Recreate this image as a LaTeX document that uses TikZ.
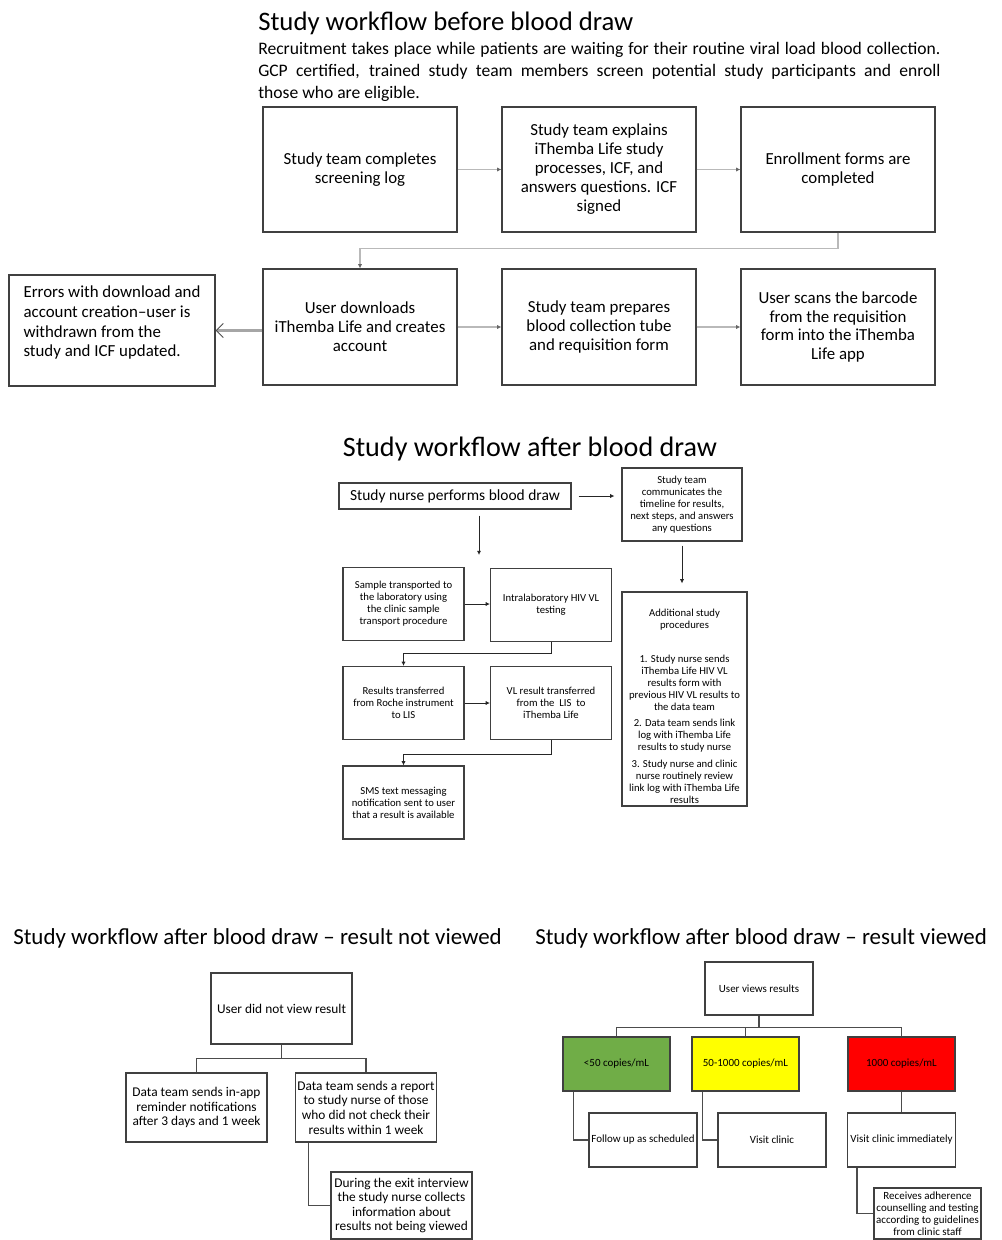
\documentclass[tikz,border=0pt]{standalone}
\usepackage{fontspec}
\setmainfont{Carlito}
\usetikzlibrary{arrows.meta}
\definecolor{lowgreen}{HTML}{70AD47}
\definecolor{midyellow}{HTML}{FFFF00}
\definecolor{highred}{HTML}{FF0000}

\begin{document}
\begin{tikzpicture}[x=0.025cm, y=-0.025cm,
  box/.style={draw=black!75, line width=0.8pt, align=center, inner sep=1pt},
  topbox/.style={box, font=\fontsize{12}{13.5}\selectfont, minimum width=4.85cm},
  midbox/.style={box, font=\fontsize{7.6}{8.6}\selectfont, minimum width=3.025cm, minimum height=1.825cm},
  nvbox/.style={box, font=\fontsize{9.5}{10.4}\selectfont, minimum width=3.525cm},
  resbox/.style={box, font=\fontsize{7.8}{8.5}\selectfont, minimum width=2.7cm, minimum height=1.35cm},
  ttl/.style={inner sep=0pt},
  grayarr/.style={gray!55, line width=0.8pt, -{Latex[length=3pt, width=3pt, color=black!60]}},
  midarr/.style={black!85, line width=0.6pt, -{Latex[length=3pt, width=3pt]}},
  tree/.style={black!70, line width=0.8pt}]
  \fill [white] (0,0) rectangle (1001,1240);
  \useasboundingbox (0,0) rectangle (1001,1240);

  % titill
  \node [ttl, anchor=base west, font=\fontsize{19}{22}\selectfont] (ttlbefore) at (258,31) {Study workflow before blood draw};
  \node [ttl, anchor=north west, text width=17.05cm, align=justify, font=\fontsize{12.5}{15.6}\selectfont] (intro) at (258,42)
    {\noindent Recruitment takes place while patients are waiting for their routine viral load blood collection.\linebreak
     GCP certified, trained study team members screen potential study participants and enroll\linebreak
     those who are eligible.};

  % kassar
  \node [topbox, minimum height=3.125cm] (screening) at (360,169.5) {Study team completes\\screening log};
  \node [topbox, minimum height=3.125cm] (explain) at (599,169.5) {Study team explains\\iThemba Life study\\processes, ICF, and\\answers questions. ICF\\signed};
  \node [topbox, minimum height=3.125cm] (enrol) at (838,169.5) {Enrollment forms are\\completed};
  \node [topbox, minimum height=2.9cm] (download) at (360,327) {User downloads\\iThemba Life and creates\\account};
  \node [topbox, minimum height=2.9cm] (prepare) at (599,327) {Study team prepares\\blood collection tube\\and requisition form};
  \node [topbox, minimum height=2.9cm] (barcode) at (838,327) {User scans the barcode\\from the requisition\\form into the iThemba\\Life app};
  \node [topbox, align=left, font=\fontsize{12}{14}\selectfont, minimum width=5.15cm, minimum height=2.775cm] (errors) at (112,330.5)
    {Errors with download and\\account creation–user is\\withdrawn from the\\study and ICF updated.\rule[-13pt]{0pt}{1pt}};

  % örvar
  \draw [grayarr] (screening) -- (explain);
  \draw [grayarr] (explain) -- (enrol);
  \draw [grayarr] (enrol.south) -- ++(0,16) -| (download.north);
  \draw [grayarr] (download) -- (prepare);
  \draw [grayarr] (prepare) -- (barcode);
  \draw [gray!70, line width=2pt, -{Straight Barb[length=5pt, width=10pt, line width=0.7pt, color=black!70]}] (download.west |- errors) -- (errors.east);

  % titill
  \node [ttl, anchor=base, font=\fontsize{20}{24}\selectfont] (ttlafter) at (530,456) {Study workflow after blood draw};

  % kassar
  \node [box, font=\fontsize{11}{13}\selectfont, minimum width=5.8cm, minimum height=0.65cm] (nurse) at (455,496) {Study nurse performs blood draw};
  \node [midbox, minimum width=3cm] (timeline) at (682,504.5) {Study team\\communicates the\\timeline for results,\\next steps, and answers\\any questions};
  \node [midbox] (transport) at (403.5,604) {Sample transported to\\the laboratory using\\the clinic sample\\transport procedure};
  \node [midbox] (testing) at (551,605) {Intralaboratory HIV VL\\testing};
  \node [midbox, minimum width=3.125cm, minimum height=5.35cm] (extra) at (684.5,699)
    {\rule{0pt}{16pt}Additional study\\procedures\\[15pt]
     1. Study nurse sends\\iThemba Life HIV VL\\results form with\\previous HIV VL results to\\the data team\\[3pt]
     2. Data team sends link\\log with iThemba Life\\results to study nurse\\[3pt]
     3. Study nurse and clinic\\nurse routinely review\\link log with iThemba Life\\results};
  \node [midbox] (lis) at (403.5,703) {Results transferred\\from Roche instrument\\to LIS};
  \node [midbox] (tolife) at (551,703) {VL result transferred\\from the\ \ LIS\ \ to\\iThemba Life};
  \node [midbox] (sms) at (403.5,802.5) {SMS text messaging\\notification sent to user\\that a result is available};

  % örvar
  \coordinate (drawdown) at (479,555);
  \draw [midarr, shorten <=1.75mm, shorten >=1.75mm] (nurse.east) -- (nurse.east -| timeline.west);
  \draw [midarr] (nurse.south -| drawdown) ++(0,6) -- (drawdown);
  \draw [midarr, shorten <=1mm, shorten >=2mm] (timeline.south) -- (timeline.south |- extra.north);
  \draw [midarr] (transport.east) -- (transport.east -| testing.west);
  \draw [midarr] (testing.south) -- ++(0,11) -| (lis.north);
  \draw [midarr] (lis.east) -- (lis.east -| tolife.west);
  \draw [midarr] (tolife.south) -- ++(0,14) -| (sms.north);

  % ekki skoðað
  \node [ttl, anchor=base west, font=\fontsize{16.3}{19}\selectfont] (ttlnotviewed) at (13,944) {Study workflow after blood draw – result not viewed};
  \node [nvbox, minimum height=1.775cm] (notviewed) at (281.5,1008.5) {User did not view result};
  \node [nvbox, minimum height=1.725cm] (reminder) at (196.5,1107.5) {Data team sends in-app\\reminder notifications\\after 3 days and 1 week};
  \node [nvbox, minimum height=1.725cm] (report) at (366,1107.5) {Data team sends a report\\to study nurse of those\\who did not check their\\results within 1 week};
  \node [nvbox, minimum height=1.675cm] (exitint) at (401.5,1205.5) {During the exit interview\\the study nurse collects\\information about\\results not being viewed};
  \draw [tree] (notviewed.south) -- ++(0,14) -| (reminder.north);
  \draw [tree] (notviewed.south) -- ++(0,14) -| (report.north);
  \draw [tree] (report.south west) ++(14,0) |- (exitint.west);

  % skoðað
  \node [ttl, anchor=base west, font=\fontsize{16.3}{19}\selectfont] (ttlviewed) at (535,944) {Study workflow after blood draw – result viewed};
  \node [resbox, minimum height=1.325cm] (viewed) at (759,988.5) {User views results};
  \node [resbox, fill=lowgreen, minimum width=2.675cm] (low) at (616.5,1064) {<50 copies/mL};
  \node [resbox, fill=midyellow, minimum width=2.675cm] (mid) at (745.5,1064) {50-1000 copies/mL};
  \node [resbox, fill=highred, minimum width=2.675cm] (high) at (901.5,1064) {1000 copies/mL};
  \node [resbox] (followup) at (643,1140) {Follow up as scheduled};
  \node [resbox] (visit) at (772,1140) {Visit clinic};
  \node [resbox] (urgent) at (901.5,1140) {Visit clinic immediately};
  \node [resbox, minimum width=2.675cm, minimum height=1.275cm] (adherence) at (927.5,1213.5) {Receives adherence\\counselling and testing\\according to guidelines\\from clinic staff};
  \draw [tree] (viewed.south) -- ++(0,12) -| (low.north);
  \draw [tree] (viewed.south) -- ++(0,12) -| (mid.north);
  \draw [tree] (viewed.south) -- ++(0,12) -| (high.north);
  \draw [tree] (low.south west) ++(11,0) |- (followup.west);
  \draw [tree] (mid.south west) ++(11,0) |- (visit.west);
  \draw [tree] (high) -- (urgent);
  \draw [tree] (urgent.south west) ++(10,0) |- (adherence.west);
\end{tikzpicture}
\end{document}
